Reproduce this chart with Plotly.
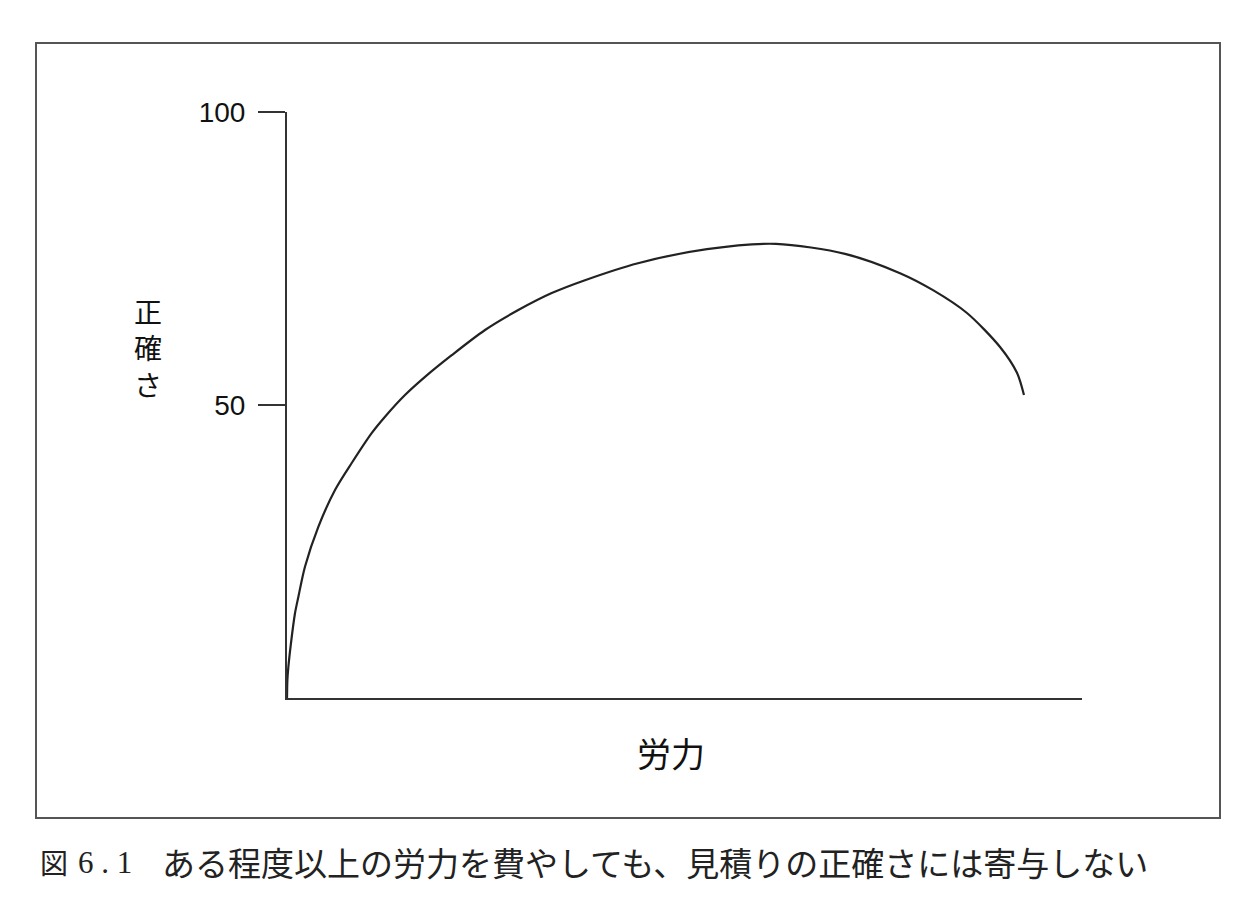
import plotly.graph_objects as go

# Effort (x, 0-100) vs accuracy (y, 0-100)
effort = [0, 0.05, 0.16, 0.47, 1.01, 1.42, 2.26, 3.94, 6.04, 8.14, 10.65, 12.33, 14.84,
          17.36, 20.72, 24.91, 29.09, 33.30, 37.48, 44.15, 52.83, 61.51, 70.19, 77.11,
          81.26, 85.53, 89.69, 91.82, 92.70]
accuracy = [0, 3.07, 5.12, 9.04, 14.5, 17.2, 22.4, 29.2, 35.5, 40.1, 45.2, 48.0, 51.7,
            54.8, 58.5, 62.8, 66.2, 69.1, 71.3, 74.2, 76.6, 77.5, 75.8, 72.5,
            69.6, 65.7, 59.9, 55.5, 51.7]

y_ticks = [50, 100]
y_tick_labels = ["50", "100"]
x_label = "労力"
y_label = "正確さ"
caption_fig = "図"
caption_num = "6 . 1"
caption_text = "ある程度以上の労力を費やしても、見積りの正確さには寄与しない"

W, H = 1260, 920
L, R, T, B = 287, 1082, 112, 698

fig = go.Figure()
fig.add_trace(go.Scatter(
    x=effort, y=accuracy, mode="lines",
    line=dict(color="#222222", width=2.2, shape="spline", smoothing=0.8),
    hoverinfo="skip", showlegend=False,
))

pw, ph = R - L, B - T
def px(x):
    return (x - L) / pw
def py(y):
    return (B - y) / ph

annotations = [
    dict(text=x_label, xref="paper", yref="paper", x=px(671), y=py(752),
         xanchor="center", yanchor="middle", showarrow=False,
         font=dict(family="Noto Sans CJK JP", size=34, color="#111111")),
    dict(text="<br>".join(y_label), xref="paper", yref="paper", x=px(148), y=py(347),
         xanchor="center", yanchor="middle", showarrow=False,
         font=dict(family="Noto Sans CJK JP", size=28, color="#111111")),
    dict(text=caption_fig, xref="paper", yref="paper", x=px(38), y=py(862),
         xanchor="left", yanchor="middle", showarrow=False,
         font=dict(family="Noto Sans CJK JP", size=28, color="#222222")),
    dict(text=caption_num, xref="paper", yref="paper", x=px(76), y=py(862),
         xanchor="left", yanchor="middle", showarrow=False,
         font=dict(family="Liberation Serif", size=31, color="#222222")),
    dict(text=caption_text, xref="paper", yref="paper", x=px(160), y=py(862),
         xanchor="left", yanchor="middle", showarrow=False,
         font=dict(family="Noto Sans CJK JP", size=33, color="#222222")),
]

fig.update_layout(
    width=W, height=H,
    margin=dict(l=L, r=W - R, t=T, b=H - B, pad=0),
    paper_bgcolor="white", plot_bgcolor="white",
    xaxis=dict(range=[0, 100], showgrid=False, zeroline=False, showline=True,
               linecolor="#333333", linewidth=2, showticklabels=False, ticks=""),
    yaxis=dict(range=[0, 100], showgrid=False, zeroline=False, showline=True,
               linecolor="#333333", linewidth=2, tickvals=y_ticks, ticktext=y_tick_labels,
               ticks="outside", ticklen=27, tickwidth=2, tickcolor="#333333",
               ticklabelstandoff=7,
               tickfont=dict(family="Liberation Sans, Arial, sans-serif", size=28, color="#111111")),
    shapes=[dict(type="rect", xref="paper", yref="paper",
                 x0=px(36), x1=px(1220), y0=py(818), y1=py(43),
                 line=dict(color="#555555", width=2), fillcolor="rgba(0,0,0,0)", layer="below")],
    annotations=annotations,
)

fig.write_html("out.html")
